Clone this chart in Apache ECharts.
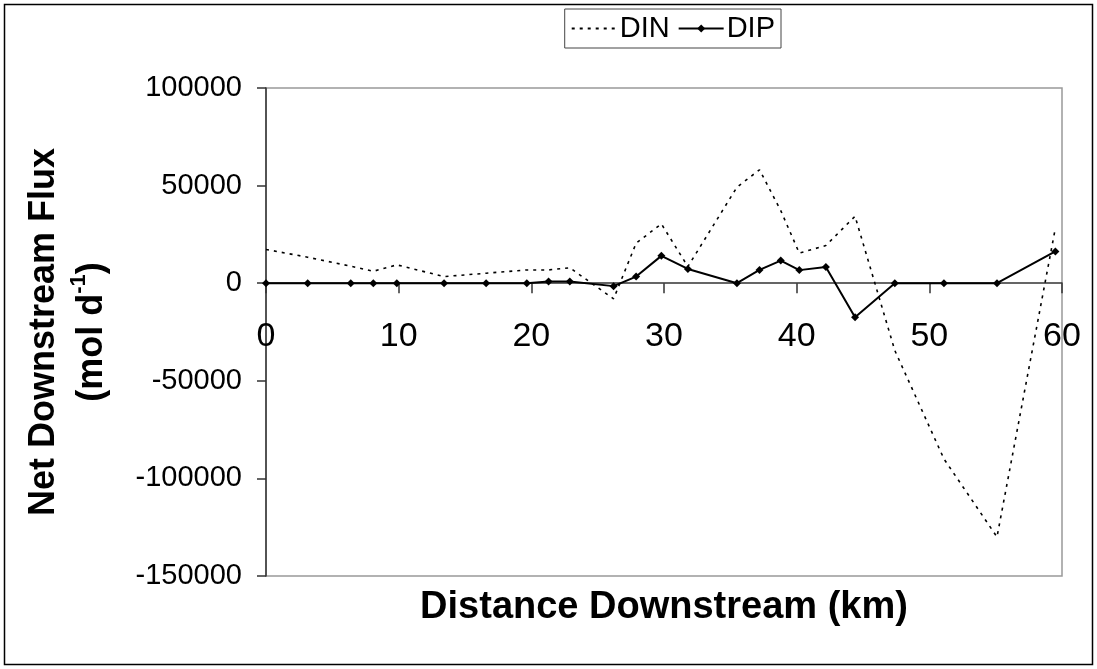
<!DOCTYPE html>
<html>
<head>
<meta charset="utf-8">
<script src="https://cdn.jsdelivr.net/npm/echarts@6/dist/echarts.min.js"></script>
<style>
html,body{margin:0;padding:0;background:#fff;}
#chart{width:1097px;height:669px;}
</style>
</head>
<body>
<div id="chart"></div>
<script>
// Distance downstream (km)
const distanceKm = [0, 3.14, 6.39, 8.09, 9.86, 13.42, 16.59, 19.66, 21.3, 22.9, 26.2, 27.9, 29.8, 31.8, 35.5, 37.2, 38.8, 40.2, 42.2, 44.4, 47.4, 51.1, 55.1, 59.5];
// Net downstream flux (mol d-1)
const dinFlux = [17300, 13300, 8700, 6100, 9400, 3400, 5100, 6800, 6800, 7900, -8000, 20500, 30400, 8500, 49200, 58100, 37200, 15400, 19300, 34300, -34500, -90000, -130000, 28200];
const dipFlux = [0, 0, 0, 0, 0, 0, 0, 0, 900, 900, -1500, 3400, 14000, 7300, 0, 6800, 11600, 6700, 8300, -17400, 0, 0, 0, 16300];
const xTicks = [0, 10, 20, 30, 40, 50, 60];
const yTicks = [-150000, -100000, -50000, 0, 50000, 100000];

const chart = echarts.init(document.getElementById('chart'), null, {renderer: 'canvas'});
const font = 'Liberation Sans, Arial, sans-serif';
const pair = (xs, ys) => xs.map((x, i) => [x, ys[i]]);

const gridTop = 88, gridBottom = 93, H = 669;
const plotH = H - gridTop - gridBottom;
const yMin = yTicks[0], yMax = yTicks[yTicks.length - 1];
// shift the x axis up so it sits on the zero line
const zeroOffset = -(plotH * (0 - yMin) / (yMax - yMin));

chart.setOption({
  animation: false,
  backgroundColor: '#fff',
  textStyle: {fontFamily: font, color: '#000'},
  graphic: [{
    type: 'rect', silent: true,
    shape: {x: 4.5, y: 4.5, width: 1088, height: 660},
    style: {fill: 'none', stroke: '#000', lineWidth: 1.5}
  }],
  legend: {
    top: 9, right: 316,
    orient: 'horizontal',
    itemWidth: 45, itemHeight: 10, itemGap: 8,
    padding: [5, 6, 5, 6],
    borderColor: '#444', borderWidth: 1,
    textStyle: {fontFamily: font, fontSize: 29, color: '#000', padding: [0,0,0,-2]},
    data: [{name: 'DIN', itemStyle: {opacity: 0}}, {name: 'DIP'}]
  },
  grid: {left: 266, right: 35, top: gridTop, bottom: gridBottom, containLabel: false, outerBoundsMode: 'none', show: true, borderColor: '#999', borderWidth: 1.5, backgroundColor: 'transparent'},
  xAxis: {
    type: 'value', min: xTicks[0], max: xTicks[xTicks.length - 1], interval: 10,
    offset: zeroOffset,
    axisLine: {onZero: false, lineStyle: {color: '#333', width: 1.5}},
    axisTick: {show: true, length: 10, inside: false, lineStyle: {color: '#333', width: 1.5}},
    axisLabel: {fontFamily: font, fontSize: 34, color: '#000', margin: 36, formatter: v => String(v)},
    splitLine: {show: false},
    name: 'Distance Downstream (km)', nameLocation: 'middle', nameGap: 305,
    nameTextStyle: {fontFamily: font, fontSize: 38, fontWeight: 'bold', color: '#000'}
  },
  yAxis: {
    type: 'value', min: yMin, max: yMax, interval: 50000,
    axisLine: {show: true, onZero: false, lineStyle: {color: '#333', width: 1.5}},
    axisTick: {show: true, length: 9, lineStyle: {color: '#333', width: 1.5}},
    axisLabel: {fontFamily: font, fontSize: 29, color: '#000', margin: 24, formatter: v => String(v)},
    splitLine: {show: false},
    name: 'Net Downstream Flux\n(mol d{sup|-1})', nameLocation: 'middle', nameRotate: 90, nameGap: 150,
    nameTextStyle: {
      fontFamily: font, fontSize: 36, fontWeight: 'bold', color: '#000', lineHeight: 48,
      rich: {sup: {fontFamily: font, fontSize: 22, fontWeight: 'bold', color: '#000', verticalAlign: 'top', lineHeight: 48, padding: [0, 0, 14, 0]}}
    }
  },
  series: [
    {
      name: 'DIN', type: 'line', data: pair(distanceKm, dinFlux),
      showSymbol: false, symbol: 'none',
      lineStyle: {color: '#000', width: 1.6, type: [3, 5]},
      itemStyle: {color: '#000'}
    },
    {
      name: 'DIP', type: 'line', data: pair(distanceKm, dipFlux),
      symbol: 'diamond', symbolSize: 8, showSymbol: true,
      lineStyle: {color: '#000', width: 2},
      itemStyle: {color: '#000'}
    }
  ]
});
</script>
</body>
</html>
